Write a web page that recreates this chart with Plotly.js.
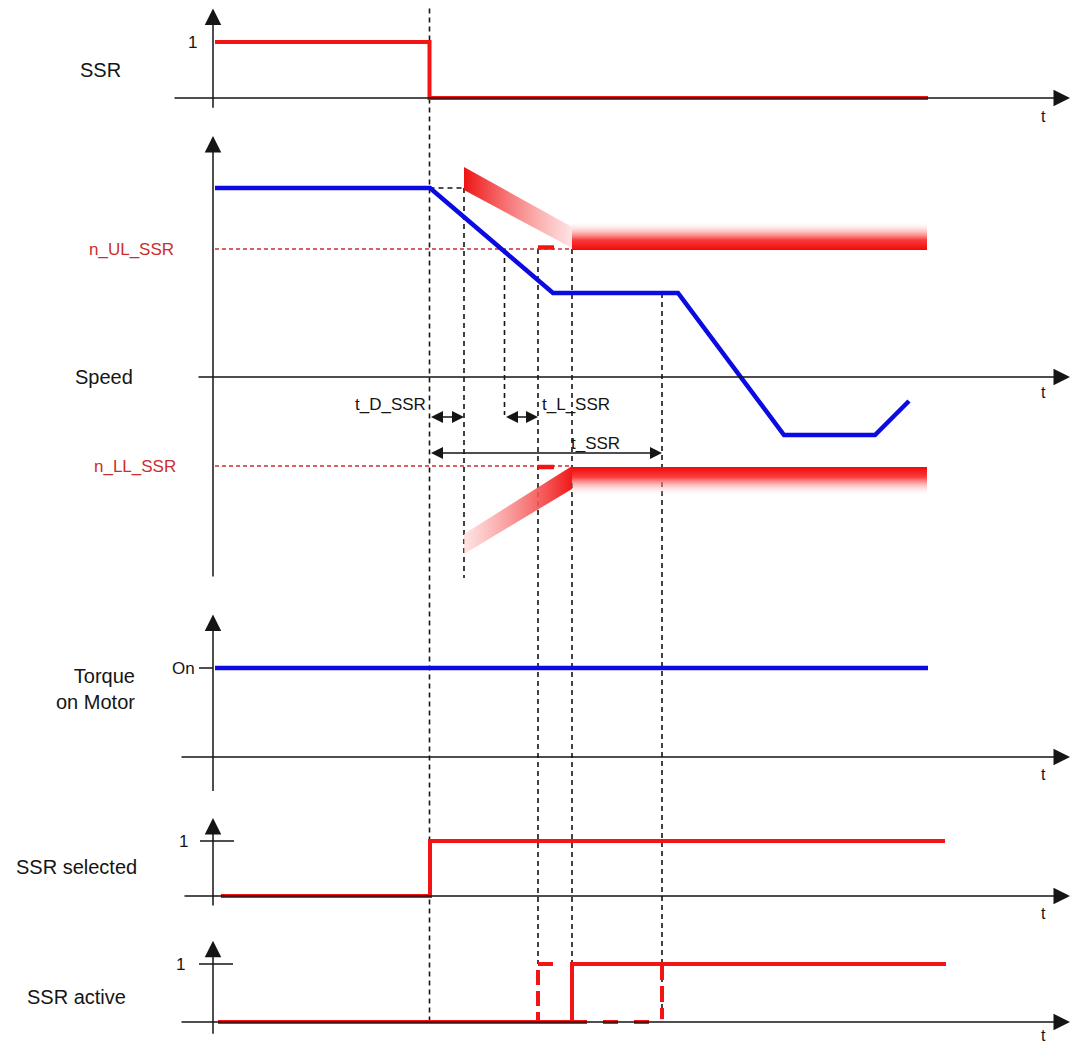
<!DOCTYPE html>
<html><head><meta charset="utf-8">
<script src="https://cdn.plot.ly/plotly-3.0.1.min.js"></script>
<style>html,body{margin:0;padding:0;background:#fff}#chart{width:1081px;height:1043px}</style>
</head><body><div id="chart"></div>
<script>
// ---------------- data (time t in ms, t = 0 at the vertical axes) ----------------
// SSR request signal
const ssrT = [2, 216.5, 216.5, 715];
const ssrV = [1, 1, 0, 0];
// motor speed (rpm)
const speedT = [2, 217, 340, 465, 571, 662, 696];
const speedV = [1890, 1890, 840, 840, -580, -580, -240];
// speed limits
const nUL = 1280;
const nLL = -890;
const limitT = [2, 359];
// limit envelopes (upper / lower), ramp part and steady part
const upRampT = [251, 359, 359, 251];
const upRampV = [2100, 1500, 1290, 1870];
const upBandT = [359, 714, 714, 359];
const upBandV = [1270, 1270, 1560, 1560];
const loRampT = [251, 359, 359, 251];
const loRampV = [-1570, -890, -1120, -1770];
const loBandT = [359, 714, 714, 359];
const loBandV = [-900, -900, -1190, -1190];
const markT = [325, 341];
// torque on motor
const torqueT = [2, 715];
const torqueV = [1, 1];
// SSR selected
const selT = [8, 217, 217, 732];
const selV = [0, 0, 1, 1];
// SSR active (solid), and alternative (dashed) cases
const actT = [5, 359, 359, 733];
const actV = [0, 0, 1, 1];
const actDashT = [359, 449];
const actDashV = [0, 0];
const actPreT = [340, 325, 325];
const actPreV = [1, 1, 0];
const actPostT = [449, 449];
const actPostV = [1, 0.05];
// event times
const tStart = 216.5, tD = 251, tCross = 291.5, tL = 325, tAct = 359, tEnd = 449;

// ---------------- geometry of the stacked panels ----------------
const W = 1081, H = 1043;
const panels = {
  p1: {axis: 'y',  zero: 98,   unit: 56},
  p2: {axis: 'y2', zero: 377,  unit: 0.1},
  p3: {axis: 'y3', zero: 757,  unit: 89},
  p4: {axis: 'y4', zero: 896,  unit: 55},
  p5: {axis: 'y5', zero: 1022, unit: 58}
};
function rangeOf(p) { return [(p.zero - H) / p.unit, p.zero / p.unit]; }
function toP1(pk, v) { const p = panels[pk]; const px = p.zero - v * p.unit; return (panels.p1.zero - px) / panels.p1.unit; }

const RED = 'rgb(244,20,20)';
const BLUE = 'rgb(10,10,225)';
const DARKRED = 'rgb(205,45,45)';
const BLACK = '#151515';
const FONT = 'Liberation Sans, Arial, sans-serif';

const traces = [];
function line(x, y, axis, color, width, dash) {
  traces.push({x: x, y: y, yaxis: axis, xaxis: 'x', mode: 'lines', hoverinfo: 'skip',
    line: {color: color, width: width, dash: dash || 'solid', shape: 'linear'}});
}
function grad(x, y, axis, type, scale) {
  traces.push({x: x.concat([x[0]]), y: y.concat([y[0]]), yaxis: axis, xaxis: 'x', mode: 'lines',
    fill: 'toself', line: {width: 0, color: 'rgba(0,0,0,0)'}, hoverinfo: 'skip',
    fillgradient: {type: type, colorscale: scale}});
}

// envelopes
grad(upRampT, upRampV, 'y2', 'horizontal', [[0, 'rgb(238,20,20)'], [1, 'rgba(255,215,215,0.7)']]);
grad(upBandT, upBandV, 'y2', 'vertical', [[0, 'rgb(240,10,10)'], [0.35, 'rgb(250,60,60)'], [1, 'rgba(255,255,255,0)']]);
grad(loRampT, loRampV, 'y2', 'horizontal', [[0, 'rgba(255,215,215,0.7)'], [1, 'rgb(240,25,25)']]);
grad(loBandT, loBandV, 'y2', 'vertical', [[0, 'rgba(255,255,255,0)'], [0.65, 'rgb(250,60,60)'], [1, 'rgb(240,10,10)']]);

// dashed guide lines
const DASH = '5px,4px';
function vguide(t, fromP, fromV, toP, toV) {
  line([t, t], [toP1(fromP, fromV), toP1(toP, toV)], 'y', BLACK, 1.6, DASH);
}
vguide(tStart, 'p1', 1.6, 'p5', 0);
vguide(tD, 'p2', 1890, 'p2', -2010);
vguide(tCross, 'p2', nUL, 'p2', -380);
vguide(tL, 'p2', nUL, 'p5', 1);
vguide(tAct, 'p2', nUL, 'p5', 0);
vguide(tEnd, 'p2', 840, 'p5', 0);
line([tStart, tD], [1890, 1890], 'y2', BLACK, 1.6, DASH);
// limit lines
line(limitT, [nUL, nUL], 'y2', DARKRED, 1.7, '4px,3px');
line(limitT, [nLL, nLL], 'y2', DARKRED, 1.7, '4px,3px');
line(markT, [nUL + 15, nUL + 15], 'y2', RED, 4.5);
line(markT, [nLL - 10, nLL - 10], 'y2', RED, 4.5);

// signals
line(ssrT, ssrV, 'y', RED, 4);
line(speedT, speedV, 'y2', BLUE, 4.5);
line(torqueT, torqueV, 'y3', BLUE, 4.5);
line(selT, selV, 'y4', RED, 4);
line(actDashT, actDashV, 'y5', RED, 4, '15px,16px');
line(actPreT, actPreV, 'y5', RED, 4, '15px,6px');
line(actPostT, actPostV, 'y5', RED, 4, '16px,6px');
line(actT, actV, 'y5', RED, 4);

// tick marks
line([-14, 0], [1, 1], 'y3', BLACK, 1.5);
line([-13, 21], [1, 1], 'y4', BLACK, 1.5);
line([-14, 20], [1, 1], 'y5', BLACK, 1.5);

// ---------------- axes with arrowheads ----------------
const ann = [];
function arrow(axis, x, y, ax, ay, both) {
  ann.push({xref: 'x', yref: axis, axref: 'x', ayref: axis, x: x, y: y, ax: ax, ay: ay, text: '',
    showarrow: true, arrowhead: 2, arrowsize: both ? 1.6 : 2.2, arrowwidth: 1.5, arrowcolor: BLACK,
    standoff: 0, startstandoff: 0, arrowside: both ? 'end+start' : 'end'});
}
// vertical axes [panel, tip, bottom]
arrow('y', 0, 1.6, 0, -0.2);
arrow('y2', 0, 2410, 0, -2010);
arrow('y3', 0, 1.6, 0, -0.4);
arrow('y4', 0, 1.42, 0, -0.2);
arrow('y5', 0, 1.4, 0, -0.23);
// horizontal (time) axes
arrow('y', 857, 0, -40, 0);
arrow('y2', 857, 0, -16, 0);
arrow('y3', 857, 0, -33, 0);
arrow('y4', 857, 0, -30, 0);
arrow('y5', 857, 0, -33, 0);
// time intervals
arrow('y2', tD, -400, tStart, -400, true);
arrow('y2', tL, -400, tCross, -400, true);
arrow('y2', tEnd, -760, tStart, -760, true);

function label(text, axis, x, y, xanchor, size, color, align) {
  ann.push({xref: 'x', yref: axis, x: x, y: y, text: text, showarrow: false, xanchor: xanchor || 'center',
    yanchor: 'middle', align: align || 'center', font: {family: FONT, size: size, color: color || BLACK}});
}
label('SSR', 'y', -113, 0.5, 'center', 20);
label('1', 'y', -21, 1.0, 'center', 17);
label('Speed', 'y2', -78, 0, 'right', 20);
label('n_UL_SSR', 'y2', -37, nUL, 'right', 17, DARKRED);
label('n_LL_SSR', 'y2', -35, nLL, 'right', 17, DARKRED);
label('Torque<br>on Motor', 'y3', -76, 0.76, 'right', 20, BLACK, 'right');
label('On', 'y3', -16, 1.0, 'right', 17);
label('SSR selected', 'y4', -137, 0.53, 'center', 20);
label('1', 'y4', -30, 1.0, 'center', 17);
label('SSR active', 'y5', -137, 0.43, 'center', 20);
label('1', 'y5', -33, 1.0, 'center', 17);
label('t_D_SSR', 'y2', 215, -270, 'right', 17);
label('t_L_SSR', 'y2', 327, -270, 'left', 17);
label('t_SSR', 'y2', 356, -660, 'left', 17);
['y', 'y2', 'y3', 'y4', 'y5'].forEach(function (a, i) {
  const off = [-0.33, -150, -0.2, -0.31, -0.23][i];
  label('t', a, 830, off, 'center', 16);
});

const layout = {
  width: W, height: H, autosize: false, showlegend: false,
  margin: {l: 0, r: 0, t: 0, b: 0, pad: 0},
  paper_bgcolor: '#fff', plot_bgcolor: '#fff',
  xaxis: {range: [-213, W - 213], visible: false, fixedrange: true},
  annotations: ann
};
Object.keys(panels).forEach(function (k, i) {
  const p = panels[k];
  const key = i === 0 ? 'yaxis' : 'yaxis' + (i + 1);
  layout[key] = {range: rangeOf(p), domain: [0, 1], visible: false, fixedrange: true};
  if (i > 0) layout[key].overlaying = 'y';
});

Plotly.newPlot('chart', traces, layout, {staticPlot: true, displayModeBar: false});
</script></body></html>
